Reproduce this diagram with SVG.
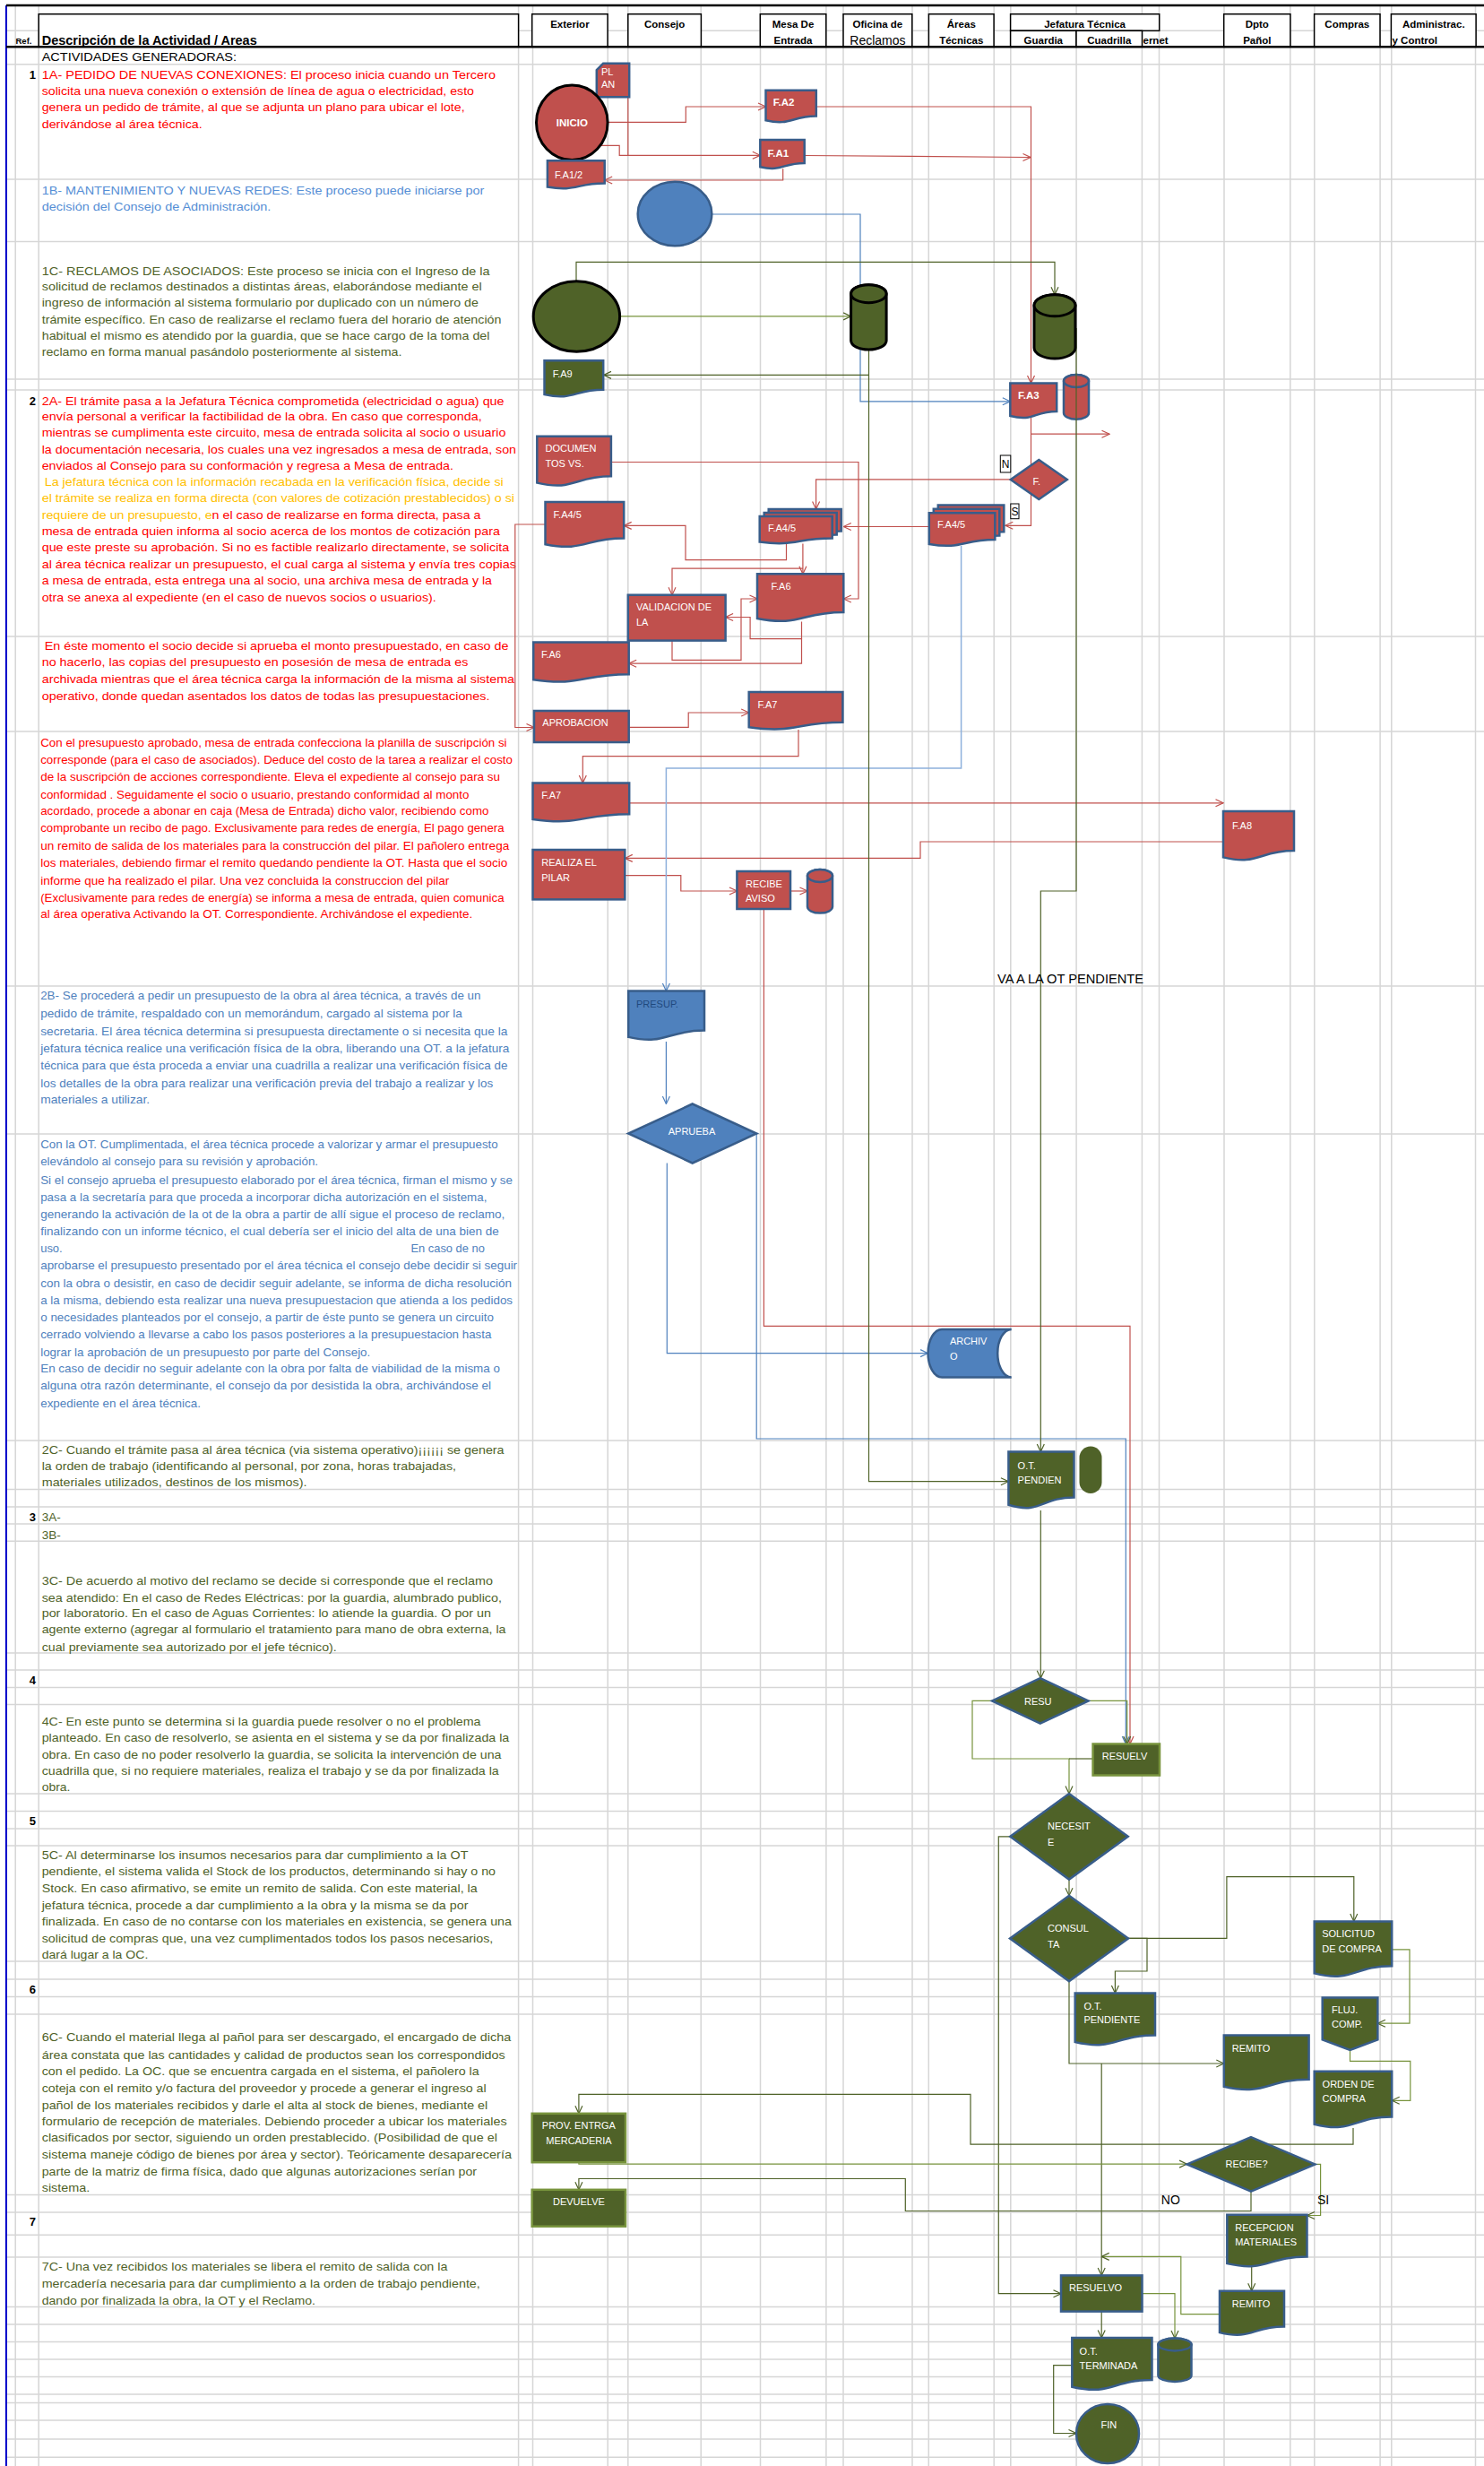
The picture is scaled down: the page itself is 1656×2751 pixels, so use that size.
<svg xmlns="http://www.w3.org/2000/svg" width="1656" height="2751" viewBox="0 0 1656 2751">
<defs>
<style>
.grid{fill:none;stroke:#D6D6D6;stroke-width:1.5}
.hb{fill:#fff;stroke:#000;stroke-width:1.5}
.ht{font-family:"Liberation Sans",Arial,sans-serif;font-size:11.5px;font-weight:bold;fill:#000}
.tx{font-family:"Liberation Sans",Arial,sans-serif;font-size:13.5px}
.cal{font-family:"Liberation Sans",Arial,sans-serif;font-size:13px}
.red{fill:#FF0000}.org{fill:#FFC000}.bl1{fill:#558ED5}.bl2{fill:#4F81BD}.grn{fill:#4F6228}.blk{fill:#000}
.ref{font-family:"Liberation Sans",Arial,sans-serif;font-size:13px;font-weight:bold;fill:#000;text-anchor:end}
.nt{font-family:"Liberation Sans",Arial,sans-serif;font-size:11px;fill:#fff}
.ntb{font-family:"Liberation Sans",Arial,sans-serif;font-size:11.5px;font-weight:bold;fill:#fff}
.cr{fill:none;stroke:#C0504D;stroke-width:1.2;marker-end:url(#mr)}
.crn{fill:none;stroke:#C0504D;stroke-width:1.2}
.cb{fill:none;stroke:#4F81BD;stroke-width:1.2;marker-end:url(#mb)}
.cbl{fill:none;stroke:#8DB0DC;stroke-width:1.5;marker-end:url(#mb)}
.cg{fill:none;stroke:#4F6228;stroke-width:1.2;marker-end:url(#mg)}
.cgl{fill:none;stroke:#77933C;stroke-width:1.2;marker-end:url(#mg)}
.cgn{fill:none;stroke:#4F6228;stroke-width:1.2}
.nr{fill:#C0504D;stroke:#385D8A;stroke-width:2.5}
.nb{fill:#4F81BD;stroke:#385D8A;stroke-width:2.5}
.ng{fill:#4F6228;stroke:#385D8A;stroke-width:2.5}
.nl{fill:#4F6228;stroke:#77933C;stroke-width:2.5}
.nk{stroke:#000;stroke-width:3}
.lbl{font-family:"Liberation Sans",Arial,sans-serif;font-size:14px;fill:#000}
</style>
<marker id="mr" markerUnits="userSpaceOnUse" markerWidth="10" markerHeight="10" viewBox="0 0 10 10" refX="9.5" refY="5" orient="auto"><path d="M1,1 L9.5,5 L1,9" fill="none" stroke="#C0504D" stroke-width="1.2"/></marker>
<marker id="mb" markerUnits="userSpaceOnUse" markerWidth="10" markerHeight="10" viewBox="0 0 10 10" refX="9.5" refY="5" orient="auto"><path d="M1,1 L9.5,5 L1,9" fill="none" stroke="#4F81BD" stroke-width="1.2"/></marker>
<marker id="mg" markerUnits="userSpaceOnUse" markerWidth="10" markerHeight="10" viewBox="0 0 10 10" refX="9.5" refY="5" orient="auto"><path d="M1,1 L9.5,5 L1,9" fill="none" stroke="#4F6228" stroke-width="1.2"/></marker>
</defs>
<rect width="1656" height="2751" fill="#fff"/>

<g id="grid">
<path class="grid" d="M17.2,6V2751M43.2,6V2751M578.6,6V2751M594.5,6V2751M678.2,6V2751M700.8,6V2751M782.2,6V2751M848.5,6V2751M921.9,6V2751M941,6V2751M1018,6V2751M1036.3,6V2751M1109.2,6V2751M1127.8,6V2751M1201.1,6V2751M1274.4,6V2751M1293.5,6V2751M1366,6V2751M1439.8,6V2751M1466.8,6V2751M1540.1,6V2751M1552.8,6V2751M1646.5,6V2751"/>
<path class="grid" d="M7,34.3H1656M7,71.7H1656M7,200H1656M7,269.5H1656M7,423H1656M7,435H1656M7,710H1656M7,816H1656M7,1100H1656M7,1265H1656M7,1607H1656M7,1661.5H1656M7,1681H1656M7,1700H1656M7,1719.3H1656M7,1844H1656M7,1863H1656M7,1882.5H1656M7,1901.5H1656M7,2001H1656M7,2020.5H1656M7,2040H1656M7,2059H1656M7,2188H1656M7,2208H1656M7,2227.4H1656M7,2247H1656M7,2448.6H1656M7,2468H1656M7,2493.3H1656M7,2518H1656M7,2573.5H1656M7,2593H1656M7,2612.5H1656M7,2632H1656M7,2651.5H1656M7,2671H1656M7,2680.6H1656M7,2700H1656M7,2721H1656M7,2741.3H1656"/>
<line x1="6.9" y1="6" x2="6.9" y2="2751" stroke="#0000C8" stroke-width="2"/>
</g>

<g id="header">
<line x1="7" y1="6" x2="1656" y2="6" stroke="#000" stroke-width="2.5"/>
<rect class="hb" x="43.2" y="15.7" width="535.4" height="36.6"/>
<rect class="hb" x="593.7" y="15.7" width="84.4" height="36.6"/>
<rect class="hb" x="700.8" y="15.7" width="81.6" height="36.6"/>
<rect class="hb" x="848.3" y="15.7" width="73.5" height="36.6"/>
<rect class="hb" x="941" y="15.7" width="76.8" height="36.6"/>
<rect class="hb" x="1036.4" y="15.7" width="72.7" height="36.6"/>
<rect class="hb" x="1127.6" y="15.7" width="166.1" height="18.6"/>
<rect class="hb" x="1127.6" y="34.3" width="73.4" height="18"/>
<rect class="hb" x="1201" y="34.3" width="73.5" height="18"/>
<rect class="hb" x="1365.7" y="15.7" width="74.2" height="36.6"/>
<rect class="hb" x="1466.6" y="15.7" width="73.4" height="36.6"/>
<rect class="hb" x="1552.4" y="15.7" width="94.7" height="36.6"/>
<line x1="7" y1="52.3" x2="1656" y2="52.3" stroke="#000" stroke-width="2.5"/>
<text x="17.5" y="49" font-family="Liberation Sans, Arial, sans-serif" font-size="9.5" font-weight="bold">Ref.</text>
<text x="46.7" y="50" font-family="Liberation Sans, Arial, sans-serif" font-size="15" font-weight="bold" textLength="240" lengthAdjust="spacingAndGlyphs">Descripción de la Actividad / Areas</text>
<text class="ht" x="635.9" y="31" text-anchor="middle">Exterior</text>
<text class="ht" x="741.6" y="31" text-anchor="middle">Consejo</text>
<text class="ht" x="885" y="31" text-anchor="middle">Mesa De</text>
<text class="ht" x="885" y="49" text-anchor="middle">Entrada</text>
<text class="ht" x="979.4" y="31" text-anchor="middle">Oficina de</text>
<text x="979.4" y="49.5" text-anchor="middle" font-family="Liberation Sans, Arial, sans-serif" font-size="14">Reclamos</text>
<text class="ht" x="1072.8" y="31" text-anchor="middle">Áreas</text>
<text class="ht" x="1072.8" y="49" text-anchor="middle">Técnicas</text>
<text class="ht" x="1210.6" y="30.5" text-anchor="middle">Jefatura Técnica</text>
<text class="ht" x="1164.3" y="49" text-anchor="middle">Guardia</text>
<text class="ht" x="1237.8" y="49" text-anchor="middle">Cuadrilla</text>
<text class="ht" x="1275.5" y="49">ernet</text>
<text class="ht" x="1402.8" y="31" text-anchor="middle">Dpto</text>
<text class="ht" x="1402.8" y="49" text-anchor="middle">Pañol</text>
<text class="ht" x="1503.3" y="31" text-anchor="middle">Compras</text>
<text class="ht" x="1599.8" y="31" text-anchor="middle">Administrac.</text>
<text class="ht" x="1553.5" y="49">y Control</text>
</g>

<g id="refs">
<text class="ref" x="40" y="87.5">1</text>
<text class="ref" x="40" y="451.5">2</text>
<text class="ref" x="40" y="1696.5">3</text>
<text class="ref" x="40" y="1879">4</text>
<text class="ref" x="40" y="2036">5</text>
<text class="ref" x="40" y="2223.5">6</text>
<text class="ref" x="40" y="2483">7</text>
</g>

<g id="descriptions">
<text class="tx blk" x="46.7" y="67.5" textLength="217.3" lengthAdjust="spacingAndGlyphs">ACTIVIDADES GENERADORAS:</text>
<g class="tx red">
<text x="46.7" y="87.7" textLength="506.3" lengthAdjust="spacingAndGlyphs">1A- PEDIDO DE NUEVAS CONEXIONES: El proceso inicia cuando un Tercero</text>
<text x="46.7" y="106" textLength="482.3" lengthAdjust="spacingAndGlyphs">solicita una nueva conexión o extensión de línea de agua o electricidad, esto</text>
<text x="46.7" y="124.3" textLength="471.9" lengthAdjust="spacingAndGlyphs">genera un pedido de trámite, al que se adjunta un plano para ubicar el lote,</text>
<text x="46.7" y="142.7" textLength="179.1" lengthAdjust="spacingAndGlyphs">derivándose al área técnica.</text>
</g>
<g class="tx bl1">
<text x="46.7" y="216.7" textLength="493.7" lengthAdjust="spacingAndGlyphs">1B- MANTENIMIENTO Y NUEVAS REDES: Este proceso puede iniciarse por</text>
<text x="46.7" y="235" textLength="255.6" lengthAdjust="spacingAndGlyphs">decisión del Consejo de Administración.</text>
</g>
<g class="tx grn">
<text x="46.7" y="306.7" textLength="499.8" lengthAdjust="spacingAndGlyphs">1C- RECLAMOS DE ASOCIADOS: Este proceso se inicia con el Ingreso de la</text>
<text x="46.7" y="324.3" textLength="491" lengthAdjust="spacingAndGlyphs">solicitud de reclamos destinados a distintas áreas, elaborándose mediante el</text>
<text x="46.7" y="342.3" textLength="487.2" lengthAdjust="spacingAndGlyphs">ingreso de información al sistema formulario por duplicado con un número de</text>
<text x="46.7" y="361" textLength="512.8" lengthAdjust="spacingAndGlyphs">trámite específico. En caso de realizarse el reclamo fuera del horario de atención</text>
<text x="46.7" y="379" textLength="499.8" lengthAdjust="spacingAndGlyphs">habitual el mismo es atendido por la guardia, que se hace cargo de la toma del</text>
<text x="46.7" y="397.3" textLength="401.8" lengthAdjust="spacingAndGlyphs">reclamo en forma manual pasándolo posteriormente al sistema.</text>
</g>
<g class="tx red">
<text x="46.7" y="451.7" textLength="515.9" lengthAdjust="spacingAndGlyphs">2A- El trámite pasa a la Jefatura Técnica comprometida (electricidad o agua) que</text>
<text x="46.7" y="469.3" textLength="491" lengthAdjust="spacingAndGlyphs">envía  personal a verificar la factibilidad de la obra. En caso que corresponda,</text>
<text x="46.7" y="487.3" textLength="517.8" lengthAdjust="spacingAndGlyphs">mientras se cumplimenta este circuito, mesa de entrada solicita al socio o usuario</text>
<text x="46.7" y="505.7" textLength="529.3" lengthAdjust="spacingAndGlyphs">la documentación necesaria, los cuales una vez ingresados a mesa de entrada, son</text>
<text x="46.7" y="524" textLength="459.3" lengthAdjust="spacingAndGlyphs">enviados al Consejo para su conformación y regresa a Mesa de entrada.</text>
<text class="org" x="49.7" y="542.3" textLength="512.1" lengthAdjust="spacingAndGlyphs">La jefatura técnica con la información recabada en la verificación física, decide si</text>
<text class="org" x="46.7" y="560" textLength="527.3" lengthAdjust="spacingAndGlyphs">el trámite se realiza en forma directa (con valores de cotización prestablecidos) o si</text>
<text x="46.7" y="579" textLength="489.8" lengthAdjust="spacingAndGlyphs"><tspan class="org">requiere de un presupuesto, e</tspan>n el caso de realizarse en forma directa, pasa a</text>
<text x="46.7" y="597.3" textLength="511.3" lengthAdjust="spacingAndGlyphs">mesa de entrada quien informa al socio acerca de los montos de cotización para</text>
<text x="46.7" y="615" textLength="521.6" lengthAdjust="spacingAndGlyphs">que este preste su aprobación. Si no es factible realizarlo directamente, se solicita</text>
<text x="46.7" y="634" textLength="529.3" lengthAdjust="spacingAndGlyphs">al área técnica realizar un presupuesto, el cual  carga al sistema y  envía tres copias</text>
<text x="46.7" y="652.3" textLength="502.3" lengthAdjust="spacingAndGlyphs">a mesa de entrada, esta entrega una al socio, una archiva mesa de entrada y la</text>
<text x="46.7" y="670.7" textLength="440.1" lengthAdjust="spacingAndGlyphs">otra se anexa al expediente (en el caso de nuevos socios o usuarios).</text>
</g>
<g class="cal red">
<text x="49.7" y="725" textLength="517.8" lengthAdjust="spacingAndGlyphs">En éste momento el socio decide si aprueba el monto presupuestado, en caso de</text>
<text x="46.7" y="743.3" textLength="475.7" lengthAdjust="spacingAndGlyphs">no hacerlo, las copias del presupuesto en posesión de mesa de entrada es</text>
<text x="46.7" y="761.7" textLength="527.3" lengthAdjust="spacingAndGlyphs">archivada mientras que el área técnica carga la información de la misma al sistema</text>
<text x="46.7" y="780.7" textLength="499.8" lengthAdjust="spacingAndGlyphs">operativo, donde quedan asentados los datos de todas las presupuestaciones.</text>
</g>
<g class="cal red">
<text x="45.2" y="832.7" textLength="520.4" lengthAdjust="spacingAndGlyphs">Con el presupuesto aprobado, mesa de entrada confecciona la planilla de suscripción si</text>
<text x="45.2" y="851.7" textLength="526.8" lengthAdjust="spacingAndGlyphs">corresponde (para el caso de asociados). Deduce del costo de la tarea a realizar el costo</text>
<text x="45.2" y="870.7" textLength="512.8" lengthAdjust="spacingAndGlyphs">de la suscripción de acciones correspondiente.  Eleva el expediente al consejo para su</text>
<text x="45.2" y="890.7" textLength="478.3" lengthAdjust="spacingAndGlyphs">conformidad . Seguidamente el socio o usuario, prestando conformidad al monto</text>
<text x="45.2" y="909.3" textLength="500.2" lengthAdjust="spacingAndGlyphs">acordado, procede a abonar en caja (Mesa de Entrada) dicho valor, recibiendo como</text>
<text x="45.2" y="928.3" textLength="517.4" lengthAdjust="spacingAndGlyphs">comprobante un recibo de pago. Exclusivamente para redes de energía, El pago genera</text>
<text x="45.2" y="947.7" textLength="523.1" lengthAdjust="spacingAndGlyphs">un remito de salida de los  materiales para la construcción del pilar. El pañolero entrega</text>
<text x="45.2" y="966.7" textLength="521.2" lengthAdjust="spacingAndGlyphs">los materiales, debiendo firmar el remito quedando pendiente la OT. Hasta que el socio</text>
<text x="45.2" y="986.7" textLength="456.1" lengthAdjust="spacingAndGlyphs">informe que ha realizado el pilar.  Una vez concluida la construccion del pilar</text>
<text x="45.2" y="1005.7" textLength="517.4" lengthAdjust="spacingAndGlyphs">(Exclusivamente para redes de energía) se informa a mesa de entrada, quien comunica</text>
<text x="45.2" y="1024.3" textLength="482.2" lengthAdjust="spacingAndGlyphs">al área operativa  Activando la OT. Correspondiente. Archivándose el expediente.</text>
</g>
<g class="cal bl2">
<text x="45.2" y="1115.4" textLength="491.3" lengthAdjust="spacingAndGlyphs">2B-  Se procederá a pedir un presupuesto de la obra al área técnica, a través de un</text>
<text x="45.2" y="1135" textLength="470.7" lengthAdjust="spacingAndGlyphs">pedido de trámite, respaldado  con un memorándum,  cargado al sistema por la</text>
<text x="45.2" y="1154.6" textLength="521.2" lengthAdjust="spacingAndGlyphs">secretaria. El área técnica  determina si  presupuesta  directamente o si necesita que la</text>
<text x="45.2" y="1173.6" textLength="523.1" lengthAdjust="spacingAndGlyphs">jefatura técnica realice una verificación física de la obra, liberando una OT. a la jefatura</text>
<text x="45.2" y="1193.2" textLength="521.2" lengthAdjust="spacingAndGlyphs">técnica para que ésta proceda a enviar una cuadrilla a realizar una verificación física de</text>
<text x="45.2" y="1212.5" textLength="505.1" lengthAdjust="spacingAndGlyphs">los detalles de la obra para realizar una verificación previa del trabajo a realizar y los</text>
<text x="45.2" y="1231.4" textLength="122" lengthAdjust="spacingAndGlyphs">materiales a utilizar.</text>
</g>
<g class="cal bl2">
<text x="45.2" y="1281.4" textLength="510.5" lengthAdjust="spacingAndGlyphs">Con la OT. Cumplimentada, el área técnica procede a valorizar y armar el presupuesto</text>
<text x="45.2" y="1300.4" textLength="309.9" lengthAdjust="spacingAndGlyphs">elevándolo al consejo para su revisión y aprobación.</text>
<text x="45.2" y="1320.7" textLength="526.8" lengthAdjust="spacingAndGlyphs">Si el consejo aprueba el presupuesto elaborado por el área técnica, firman el mismo y se</text>
<text x="45.2" y="1339.6" textLength="498.2" lengthAdjust="spacingAndGlyphs">pasa a la secretaría para que proceda a incorporar dicha autorización en el sistema,</text>
<text x="45.2" y="1359" textLength="518.1" lengthAdjust="spacingAndGlyphs">generando la activación de  la ot de la obra a partir de allí sigue el proceso de reclamo,</text>
<text x="45.2" y="1377.9" textLength="511.6" lengthAdjust="spacingAndGlyphs">finalizando con un informe técnico, el cual debería ser el inicio del alta de una bien de</text>
<text x="45.2" y="1396.8" textLength="24.5" lengthAdjust="spacingAndGlyphs">uso.</text>
<text x="458.5" y="1396.8" textLength="82.3" lengthAdjust="spacingAndGlyphs">En caso de no</text>
<text x="45.2" y="1416.4" textLength="531.9" lengthAdjust="spacingAndGlyphs">aprobarse el presupuesto presentado por el área técnica el consejo debe decidir si seguir</text>
<text x="45.2" y="1435.7" textLength="525.8" lengthAdjust="spacingAndGlyphs">con la obra o desistir, en caso de decidir seguir adelante, se informa de dicha resolución</text>
<text x="45.2" y="1454.6" textLength="526.8" lengthAdjust="spacingAndGlyphs">a la misma, debiendo esta realizar una nueva presupuestacion que atienda a los pedidos</text>
<text x="45.2" y="1474.3" textLength="505.8" lengthAdjust="spacingAndGlyphs">o necesidades planteados por el consejo, a partir de éste punto se genera un circuito</text>
<text x="45.2" y="1493.2" textLength="503.2" lengthAdjust="spacingAndGlyphs">cerrado volviendo a llevarse a cabo los pasos posteriores a la presupuestacion hasta</text>
<text x="45.2" y="1512.5" textLength="368.1" lengthAdjust="spacingAndGlyphs">lograr la aprobación de un presupuesto por parte del Consejo.</text>
<text x="45.2" y="1531.4" textLength="512.8" lengthAdjust="spacingAndGlyphs">En caso de decidir no seguir adelante con la obra por falta de viabilidad de la misma o</text>
<text x="45.2" y="1550.4" textLength="502.8" lengthAdjust="spacingAndGlyphs">alguna otra razón determinante, el consejo da por desistida la obra,  archivándose el</text>
<text x="45.2" y="1570" textLength="178.7" lengthAdjust="spacingAndGlyphs">expediente en el área técnica.</text>
</g>
<g class="tx grn">
<text x="46.7" y="1622.3" textLength="515.9" lengthAdjust="spacingAndGlyphs">2C- Cuando el trámite pasa al área técnica (via sistema operativo)¡¡¡¡¡¡ se genera</text>
<text x="46.7" y="1640" textLength="462.3" lengthAdjust="spacingAndGlyphs">la orden de trabajo (identificando al personal, por zona, horas trabajadas,</text>
<text x="46.7" y="1658.3" textLength="295.8" lengthAdjust="spacingAndGlyphs">materiales utilizados, destinos de los mismos).</text>
<text x="46.7" y="1696.7">3A-</text>
<text x="46.7" y="1716.7">3B-</text>
<text x="46.7" y="1768.3" textLength="503.3" lengthAdjust="spacingAndGlyphs">3C- De acuerdo al motivo del reclamo se decide si corresponde que el reclamo</text>
<text x="46.7" y="1786.7" textLength="513.3" lengthAdjust="spacingAndGlyphs">sea atendido: En el caso de Redes Eléctricas: por la guardia, alumbrado publico,</text>
<text x="46.7" y="1804.3" textLength="501.3" lengthAdjust="spacingAndGlyphs">por laboratorio. En el caso de Aguas Corrientes: lo atiende la guardia. O por un</text>
<text x="46.7" y="1822.3" textLength="517.8" lengthAdjust="spacingAndGlyphs">agente externo (agregar al formulario el tratamiento para mano de obra externa, la</text>
<text x="46.7" y="1841.7" textLength="329.1" lengthAdjust="spacingAndGlyphs">cual previamente sea autorizado por el jefe técnico).</text>
<text x="46.7" y="1925" textLength="489.8" lengthAdjust="spacingAndGlyphs">4C- En este punto se determina si la guardia puede resolver o no el problema</text>
<text x="46.7" y="1943.3" textLength="521.6" lengthAdjust="spacingAndGlyphs">planteado. En caso de resolverlo, se asienta en el sistema y se da por finalizada la</text>
<text x="46.7" y="1961.7" textLength="512.8" lengthAdjust="spacingAndGlyphs">obra. En caso de no poder resolverlo la guardia, se solicita la intervención de una</text>
<text x="46.7" y="1980" textLength="510.1" lengthAdjust="spacingAndGlyphs">cuadrilla que, si no requiere materiales, realiza el trabajo y se da por finalizada la</text>
<text x="46.7" y="1998.3" textLength="31.8" lengthAdjust="spacingAndGlyphs">obra.</text>
<text x="46.7" y="2074.3" textLength="475.7" lengthAdjust="spacingAndGlyphs">5C- Al determinarse los insumos necesarios para dar cumplimiento a la OT</text>
<text x="46.7" y="2092.3" textLength="506.3" lengthAdjust="spacingAndGlyphs">pendiente, el sistema valida el Stock de los productos, determinando si hay o no</text>
<text x="46.7" y="2111" textLength="486" lengthAdjust="spacingAndGlyphs">Stock. En caso afirmativo, se emite un remito de salida. Con este material, la</text>
<text x="46.7" y="2129.7" textLength="475.7" lengthAdjust="spacingAndGlyphs">jefatura técnica, procede a dar cumplimiento a la obra y la misma se da por</text>
<text x="46.7" y="2147.9" textLength="524.3" lengthAdjust="spacingAndGlyphs">finalizada. En caso de no contarse con los materiales en existencia,  se genera una</text>
<text x="46.7" y="2166.5" textLength="503.6" lengthAdjust="spacingAndGlyphs">solicitud de compras que, una vez cumplimentados todos los pasos necesarios,</text>
<text x="46.7" y="2185.3" textLength="118.6" lengthAdjust="spacingAndGlyphs">dará lugar a la OC.</text>
<text x="46.7" y="2277" textLength="523.5" lengthAdjust="spacingAndGlyphs">6C-  Cuando el material llega al pañol para ser descargado, el encargado de dicha</text>
<text x="46.7" y="2296.6" textLength="517" lengthAdjust="spacingAndGlyphs">área constata que las cantidades y calidad de productos sean los correspondidos</text>
<text x="46.7" y="2314.8" textLength="487.9" lengthAdjust="spacingAndGlyphs">con el pedido. La OC. que se encuentra cargada en el sistema, el pañolero la</text>
<text x="46.7" y="2334.3" textLength="496" lengthAdjust="spacingAndGlyphs">coteja con el remito y/o factura del proveedor y procede a generar el ingreso al</text>
<text x="46.7" y="2352.6" textLength="497.5" lengthAdjust="spacingAndGlyphs">pañol de los materiales recibidos y darle el alta al stock de bienes, mediante el</text>
<text x="46.7" y="2371.2" textLength="518.9" lengthAdjust="spacingAndGlyphs">formulario de recepción de materiales. Debiendo proceder a ubicar los materiales</text>
<text x="46.7" y="2389.4" textLength="508.2" lengthAdjust="spacingAndGlyphs">clasificados por sector, siguiendo un orden prestablecido. (Posibilidad de que el</text>
<text x="46.7" y="2408" textLength="524.3" lengthAdjust="spacingAndGlyphs">sistema maneje código de bienes por área y sector).  Teóricamente desaparecería</text>
<text x="46.7" y="2426.7" textLength="485.3" lengthAdjust="spacingAndGlyphs">parte de la matriz de firma física, dado que algunas autorizaciones serían por</text>
<text x="46.7" y="2445" textLength="53.6" lengthAdjust="spacingAndGlyphs">sistema.</text>
<text x="46.7" y="2532.5" textLength="452.7" lengthAdjust="spacingAndGlyphs">7C- Una vez recibidos los materiales se libera el remito de salida con la</text>
<text x="46.7" y="2552" textLength="489.1" lengthAdjust="spacingAndGlyphs">mercadería necesaria para dar cumplimiento a la orden de trabajo pendiente,</text>
<text x="46.7" y="2570.7" textLength="305.3" lengthAdjust="spacingAndGlyphs">dando por finalizada la obra, la OT y el Reclamo.</text>
</g>
</g>

<g id="cyl_fa3">
<path class="nr" d="M1187,425 A14,7 0 0 1 1215,425 V460.7 A14,7 0 0 1 1187,460.7 Z"/>
<ellipse class="nr" cx="1201" cy="425" rx="14" ry="7"/>
</g>

<g id="connectors">
<path class="cr" d="M678,136.3 H765.3 V119 H854.5"/>
<path class="cr" d="M669,162.3 H691.2 V173.3 H848.3"/>
<path class="crn" d="M700.8,108.3 V173.3"/>
<path class="cr" d="M873.7,188.3 V201 H674.7"/>
<path class="cr" d="M910.8,119 H1150.5 V427.5"/>
<path class="cr" d="M897.7,173.5 L1150,175.5"/>
<path class="cr" d="M1150.5,466 V586.3 H1121.8"/>
<path class="cr" d="M1150.5,484.2 H1238"/>
<path class="cr" d="M1128,534.9 H910.6 V568"/>
<path class="cr" d="M1036.8,587.5 H941.3"/>
<path class="cr" d="M877.5,606.6 V624.6 H765 V586.4 H696.2"/>
<path class="cr" d="M895.9,606.6 V640.3"/>
<path class="cr" d="M895.9,634.2 H750 V663.7"/>
<path class="cr" d="M682,515.5 H958 V668 H941.3"/>
<path class="cr" d="M894.5,693.5 V712.6 H837.1 V688.5 H809.6"/>
<path class="cr" d="M750,714.6 V736.4 H827 V668 H845"/>
<path class="cr" d="M894.5,712.6 V740.2 H701.7"/>
<path class="cr" d="M608.5,585 H574.8 V811.5 H596"/>
<path class="cr" d="M701.7,811.4 H768.2 V795 H835.7"/>
<path class="cr" d="M891,814 V843.6 H650.3 V873.5"/>
<path class="cr" d="M702.2,895.8 H1365"/>
<path class="cr" d="M1365,939 H1027 V957.4 H697.3"/>
<path class="cr" d="M697.3,976.6 H759.8 V994 H822.4"/>
<path class="cr" d="M882,994 H901"/>
<path class="cr" d="M852.4,1014 V1479.3 H1261 V1945.5"/>
<path class="cb" d="M794,239 H960 V447.8 H1127.3"/>
<path class="cbl" d="M1072.6,609 V857 H743.4 V1105.6"/>
<path class="cb" d="M743.4,1162 V1231.5"/>
<path class="cb" d="M744.3,1297.6 V1509.6 H1035.6"/>
<path class="cb" d="M844.2,1264.5 V1605 H1256.3 V1945.5"/>
<path class="cg" d="M643,314 V292.4 H1177 V328.8"/>
<path class="cgl" d="M691.6,352.9 H949.6"/>
<path class="cg" d="M969.5,418.4 H673.5"/>
<path class="cg" d="M969.5,390 V1652.7 H1125.4"/>
<path class="cg" d="M1201,366 V994 H1161.3 V1619.6"/>
<path class="cg" d="M1161.3,1685 V1872.2"/>
<path class="cgl" d="M1214.5,1897.4 H1257.7 V1945.5"/>
<path class="cgl" d="M1107.1,1897.4 H1085 V1962 H1193 V2001"/>
<path class="cgn" d="M1219.6,1962 H1193"/>
<path class="cg" d="M1193,2096.6 V2114.7"/>
<path class="cg" d="M1127.3,2048.8 H1114.3 V2558.7 H1184"/>
<path class="cg" d="M1259,2162.4 H1368.9 V2093.7 H1510.8 V2143.4"/>
<path class="cg" d="M1259,2162.4 H1280 V2199 H1244.4 V2223.5"/>
<path class="cg" d="M1193,2210.1 V2302 H1365.8"/>
<path class="cg" d="M1229.2,2302 V2538.4"/>
<path class="cgl" d="M1553.2,2174.9 H1573 V2257.2 H1537.4"/>
<path class="cgl" d="M1506.5,2287 V2299.3 H1573.8 V2343.3 H1553.2"/>
<path class="cg" d="M1510,2373.9 V2392.2 H1083 V2336.4 H645.9 V2357.8"/>
<path class="cgl" d="M645.9,2412.2 V2414.1 H1324.6"/>
<path class="cg" d="M1396,2444.7 V2466.5 H1010.3 V2430.5 H645.9 V2442.8"/>
<path class="cgl" d="M1467.4,2414.4 H1473.6 V2471.5 H1458.5"/>
<path class="cg" d="M1396.7,2528.9 V2555.7"/>
<path class="cgl" d="M1361,2581.7 H1317.8 V2517.4 H1229.2"/>
<path class="cgl" d="M1274.5,2558.7 H1311 V2608.5"/>
<path class="cg" d="M1229.2,2578.6 V2608"/>
<path class="cg" d="M1196.3,2638.7 H1175.7 V2714.5 H1201"/>
</g>

<g id="n_plano"><path class="nr" d="M665.8,78.2 L673.1,70.7 H702.2 V108.3 H665.8 Z"/><text class="nt" x="671" y="84">PL</text><text class="nt" x="671" y="98">AN</text></g>
<g id="n_inicio"><ellipse class="nk" cx="638.3" cy="136.7" rx="39.8" ry="41.7" fill="#C0504D"/><text class="ntb" x="638.3" y="141" text-anchor="middle">INICIO</text></g>
<g id="n_fa2"><path class="nr" d="M854.5,100.7 H910.8 V129.6 C882.7,129.6 882.7,140.6 854.5,134.3 Z"/><text class="ntb" x="862.7" y="117.5">F.A2</text></g>
<g id="n_fa1"><path class="nr" d="M848.3,156 H897.7 V181.9 C873,181.9 873,191.8 848.3,186.2 Z"/><text class="ntb" x="856.5" y="174.5">F.A1</text></g>
<g id="n_fa12"><path class="nr" d="M610.9,179.3 H674.7 V204.5 C642.8,204.5 642.8,214.1 610.9,208.6 Z"/><text class="nt" x="619" y="199">F.A1/2</text></g>
<g id="n_blue_circle"><ellipse class="nb" cx="753" cy="238.5" rx="41.3" ry="35.8"/></g>
<g id="n_green_circle"><ellipse class="nk" cx="643.4" cy="353" rx="48.2" ry="39.2" fill="#4F6228"/></g>
<g id="n_cyl1"><path class="nk" fill="#4F6228" d="M949.6,327.7 A19.75,10 0 0 1 989.1,327.7 V380 A19.75,10 0 0 1 949.6,380 Z"/><ellipse class="nk" fill="#4F6228" cx="969.35" cy="327.7" rx="19.75" ry="10"/></g>
<g id="n_cyl2"><path class="nk" fill="#4F6228" d="M1154,340.8 A23,12 0 0 1 1200,340.8 V388 A23,12 0 0 1 1154,388 Z"/><ellipse class="nk" fill="#4F6228" cx="1177" cy="340.8" rx="23" ry="12"/></g>
<g id="n_fa9"><path class="ng" d="M607.5,402.3 H673.2 V434.8 C640.4,434.8 640.4,447.2 607.5,440.1 Z"/><text class="nt" x="616.7" y="421">F.A9</text></g>
<g id="n_fa3"><path class="nr" d="M1127.3,427.5 H1179.2 V458.9 C1153.3,458.9 1153.3,470.8 1127.3,464 Z"/><text class="ntb" x="1136" y="445">F.A3</text></g>
<g id="n_f_decision"><polygon class="nr" points="1159.3,512.9 1190.8,534.9 1159.3,556.9 1127.8,534.9"/><text class="nt" x="1152.5" y="540.5">F.</text></g>
<g id="lbl_n"><rect x="1116.3" y="508" width="11.5" height="19" fill="#fff" stroke="#000" stroke-width="1"/><text x="1122" y="522" text-anchor="middle" font-family="Liberation Sans, Arial, sans-serif" font-size="12">N</text></g>
<g id="lbl_s"><rect x="1127.8" y="562" width="9.2" height="16.7" fill="#fff" stroke="#000" stroke-width="1"/><text x="1132.4" y="575" text-anchor="middle" font-family="Liberation Sans, Arial, sans-serif" font-size="12">S</text></g>
<g id="n_documentos"><path class="nr" d="M599.3,486.8 H681.9 V531.3 C640.6,531.3 640.6,548.3 599.3,538.6 Z"/><text class="nt" x="608.5" y="504">DOCUMEN</text><text class="nt" x="608.5" y="520.7">TOS VS.</text></g>
<g id="n_fa45_left"><path class="nr" d="M608.5,560 H696.2 V600.5 C652.4,600.5 652.4,615.9 608.5,607.2 Z"/><text class="nt" x="617.6" y="577.7">F.A4/5</text></g>
<g id="n_fa45_mid">
<path class="nr" d="M857.7,568 H938.7 V592.5 C898.2,592.5 898.2,601.9 857.7,596.6 Z"/>
<path class="nr" d="M852.7,572 H933.7 V596.5 C893.2,596.5 893.2,605.9 852.7,600.6 Z"/>
<path class="nr" d="M847.7,576 H928.7 V600.5 C888.2,600.5 888.2,609.9 847.7,604.6 Z"/>
<text class="nt" x="856.9" y="593">F.A4/5</text></g>
<g id="n_fa45_right">
<path class="nr" d="M1046.8,563.4 H1120.3 V593.2 C1083.6,593.2 1083.6,604.5 1046.8,598.1 Z"/>
<path class="nr" d="M1041.8,567.8 H1115.3 V597.6 C1078.6,597.6 1078.6,608.9 1041.8,602.5 Z"/>
<path class="nr" d="M1036.8,572.2 H1110.3 V602 C1073.6,602 1073.6,613.3 1036.8,606.9 Z"/>
<text class="nt" x="1046" y="589">F.A4/5</text></g>
<g id="n_fa6_mid"><path class="nr" d="M845,640.3 H941.3 V683 C893.2,683 893.2,699.2 845,690 Z"/><text class="nt" x="860.5" y="658">F.A6</text></g>
<g id="n_validacion"><rect class="nr" x="700.8" y="663.7" width="108.8" height="50.9"/><text class="nt" x="710" y="681">VALIDACION DE</text><text class="nt" x="710" y="697.5">LA</text></g>
<g id="n_fa6_left"><path class="nr" d="M595.2,716.5 H701.7 V752.3 C648.5,752.3 648.5,766 595.2,758.2 Z"/><text class="nt" x="603.9" y="734">F.A6</text></g>
<g id="n_aprobacion"><rect class="nr" x="596" y="793" width="105.7" height="35"/><text class="nt" x="605.3" y="810.4">APROBACION</text></g>
<g id="n_fa7_mid"><path class="nr" d="M835.7,772 H940.4 V805.7 C888,805.7 888,818.5 835.7,811.2 Z"/><text class="nt" x="845.4" y="789.7">F.A7</text></g>
<g id="n_fa7_left"><path class="nr" d="M594.5,873.5 H702.2 V908.2 C648.4,908.2 648.4,921.5 594.5,913.9 Z"/><text class="nt" x="604.2" y="891">F.A7</text></g>
<g id="n_fa8"><path class="nr" d="M1365,905 H1444 V949.1 C1404.5,949.1 1404.5,965.9 1365,956.4 Z"/><text class="nt" x="1375" y="925">F.A8</text></g>
<g id="n_realiza"><rect class="nr" x="594.5" y="948" width="102.8" height="55.4"/><text class="nt" x="604.2" y="966">REALIZA EL</text><text class="nt" x="604.2" y="983">PILAR</text></g>
<g id="n_recibe_aviso"><rect class="nr" x="822.4" y="972" width="59.6" height="42"/><text class="nt" x="832" y="990">RECIBE</text><text class="nt" x="832" y="1005.6">AVISO</text></g>
<g id="n_cyl_aviso"><path class="nr" d="M901,977 A14,7 0 0 1 929,977 V1011.6 A14,7 0 0 1 901,1011.6 Z"/><ellipse class="nr" cx="915" cy="977" rx="14" ry="7"/></g>
<g id="n_presup"><path class="nb" d="M701.2,1105.6 H786 V1149.6 C743.6,1149.6 743.6,1166.4 701.2,1156.9 Z"/><text x="710" y="1124" font-family="Liberation Sans, Arial, sans-serif" font-size="11" fill="#1F497D">PRESUP.</text></g>
<g id="n_aprueba"><polygon class="nb" points="772.7,1231.5 844.2,1264.5 772.7,1297.5 701.2,1264.5"/><text class="nt" x="772" y="1265.5" text-anchor="middle">APRUEBA</text></g>
<g id="n_archivo"><path class="nb" d="M1051.1,1482.9 H1128.7 A15.5,26.75 0 0 0 1128.7,1536.4 H1051.1 A15.5,26.75 0 0 1 1051.1,1482.9 Z"/><text class="nt" x="1059.9" y="1500.3">ARCHIV</text><text class="nt" x="1059.9" y="1516.8">O</text></g>
<g id="lbl_va"><text x="1113" y="1097" font-family="Liberation Sans, Arial, sans-serif" font-size="14" fill="#000" textLength="163" lengthAdjust="spacingAndGlyphs">VA A LA OT PENDIENTE</text></g>
<g id="n_ot_pendien"><path class="ng" d="M1125.4,1619.6 H1198.5 V1670.4 C1162,1670.4 1162,1689.8 1125.4,1678.8 Z" stroke="none"/><text class="nt" x="1135.6" y="1638.8">O.T.</text><text class="nt" x="1135.6" y="1655">PENDIEN</text></g>
<g id="n_pill"><rect x="1204.5" y="1613.6" width="25" height="52.4" rx="12.5" fill="#4F6228"/></g>
<g id="n_resu"><polygon class="ng" points="1160.8,1872.2 1214.5,1897.4 1160.8,1922.6 1107.1,1897.4"/><text class="nt" x="1143" y="1901.5">RESU</text></g>
<g id="n_resuelv"><rect class="nl" x="1219.6" y="1945.5" width="74.4" height="35"/><text class="nt" x="1229.7" y="1962.6">RESUELV</text></g>
<g id="n_necesite"><polygon class="ng" points="1193,2001 1258.7,2048.8 1193,2096.6 1127.3,2048.8"/><text class="nt" x="1169" y="2041.4">NECESIT</text><text class="nt" x="1169" y="2058.6">E</text></g>
<g id="n_consulta"><polygon class="ng" points="1193,2114.7 1259,2162.4 1193,2210.1 1127,2162.4"/><text class="nt" x="1169" y="2155.4">CONSUL</text><text class="nt" x="1169" y="2172.6">TA</text></g>
<g id="n_solicitud"><path class="ng" d="M1466.7,2143.4 H1553.2 V2193.2 C1510,2193.2 1510,2212.2 1466.7,2201.4 Z"/><text class="nt" x="1475.2" y="2160.8">SOLICITUD</text><text class="nt" x="1475.2" y="2178">DE COMPRA</text></g>
<g id="n_ot_pendiente"><path class="ng" d="M1199.7,2223.5 H1289 V2270.4 C1244.4,2270.4 1244.4,2288.3 1199.7,2278.1 Z"/><text class="nt" x="1209.4" y="2242">O.T.</text><text class="nt" x="1209.4" y="2257.3">PENDIENTE</text></g>
<g id="n_fluj"><path class="ng" d="M1475.7,2228.5 H1537.4 V2275.3 L1506.55,2287 L1475.7,2275.3 Z"/><text class="nt" x="1486" y="2245.8">FLUJ.</text><text class="nt" x="1486" y="2262">COMP.</text></g>
<g id="n_remito1"><path class="ng" d="M1365.8,2270.5 H1460.6 V2319.7 C1413.2,2319.7 1413.2,2338.4 1365.8,2327.8 Z"/><text class="nt" x="1374.8" y="2288.7">REMITO</text></g>
<g id="n_orden"><path class="ng" d="M1466.7,2310.7 H1553.2 V2361.4 C1510,2361.4 1510,2380.7 1466.7,2369.7 Z"/><text class="nt" x="1475.6" y="2329">ORDEN DE</text><text class="nt" x="1475.6" y="2345">COMPRA</text></g>
<g id="n_prov"><rect class="nl" x="593.7" y="2357.8" width="104.3" height="54.4"/><text class="nt" x="645.9" y="2375" text-anchor="middle">PROV. ENTRGA</text><text class="nt" x="645.9" y="2391.7" text-anchor="middle">MERCADERIA</text></g>
<g id="n_recibe"><polygon class="ng" points="1396,2384.1 1467.4,2414.4 1396,2444.7 1324.6,2414.4"/><text class="nt" x="1391" y="2418" text-anchor="middle">RECIBE?</text></g>
<g id="lbl_no_si"><text class="lbl" x="1295.8" y="2459">NO</text><text class="lbl" x="1470" y="2459">SI</text></g>
<g id="n_devuelve"><rect class="nl" x="593.7" y="2442.8" width="104.3" height="40.9"/><text class="nt" x="645.9" y="2460" text-anchor="middle">DEVUELVE</text></g>
<g id="n_recepcion"><path class="ng" d="M1369.3,2470.7 H1458.5 V2517.4 C1413.9,2517.4 1413.9,2535.2 1369.3,2525.1 Z"/><text class="nt" x="1378.2" y="2488.9">RECEPCION</text><text class="nt" x="1378.2" y="2505">MATERIALES</text></g>
<g id="n_resuelvo"><rect class="ng" x="1184" y="2538.4" width="90.5" height="40.2"/><text class="nt" x="1193" y="2555.8">RESUELVO</text></g>
<g id="n_remito2"><path class="ng" d="M1361,2555.7 H1433 V2595.6 C1397,2595.6 1397,2610.7 1361,2602.1 Z"/><text class="nt" x="1374.8" y="2573.8">REMITO</text></g>
<g id="n_ot_terminada"><path class="ng" d="M1196.3,2608 H1285.5 V2655 C1240.9,2655 1240.9,2672.9 1196.3,2662.7 Z"/><text class="nt" x="1204.6" y="2627.4">O.T.</text><text class="nt" x="1204.6" y="2642.7">TERMINADA</text></g>
<g id="n_cyl_final"><path class="ng" d="M1292.4,2615.5 A18.55,7 0 0 1 1329.5,2615.5 V2650 A18.55,7 0 0 1 1292.4,2650 Z"/><ellipse class="ng" cx="1310.95" cy="2615.5" rx="18.55" ry="7"/></g>
<g id="n_fin"><ellipse class="ng" cx="1236" cy="2714.9" rx="35" ry="33"/><text class="nt" x="1228.6" y="2709">FIN</text></g>
</svg>
